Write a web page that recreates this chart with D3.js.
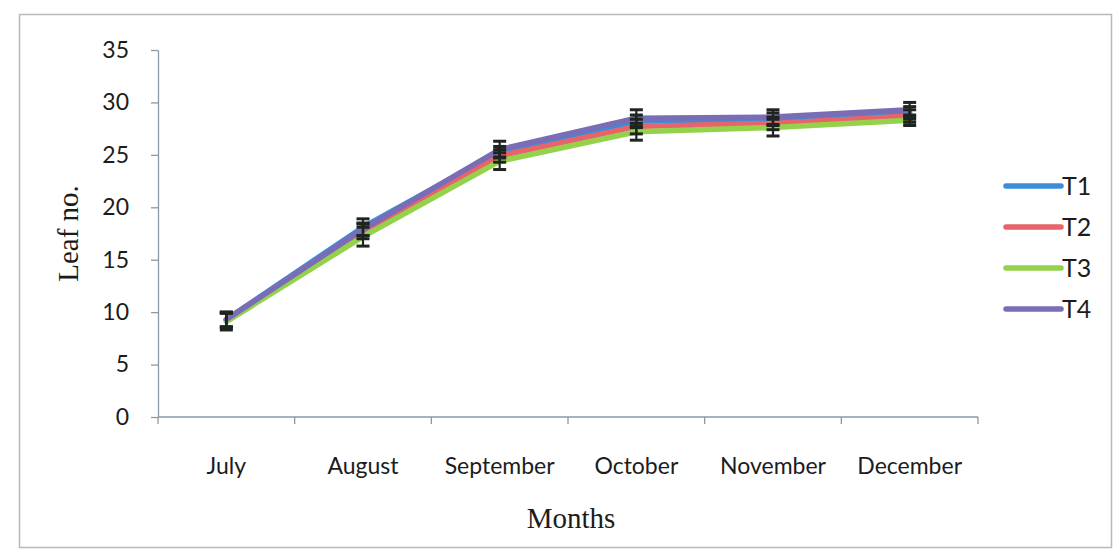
<!DOCTYPE html>
<html>
<head>
<meta charset="utf-8">
<script src="https://cdn.jsdelivr.net/npm/d3@7/dist/d3.min.js"></script>
<style>
  html, body { margin: 0; padding: 0; background: #ffffff; }
  svg { display: block; }
</style>
</head>
<body>
<div id="chart"></div>
<script>
// Monthly leaf counts for four treatments, with error bars
const months = ["July", "August", "September", "October", "November", "December"];
const seriesNames = ["T1", "T2", "T3", "T4"];
const t1 = [9.3, 18.1, 25.3, 28.2, 28.4, 29.0];
const t2 = [9.2, 17.7, 24.9, 27.7, 28.0, 28.7];
const t3 = [9.1, 17.2, 24.4, 27.2, 27.6, 28.3];
const t4 = [9.3, 17.9, 25.5, 28.5, 28.6, 29.3];
const t1Err = [0.7, 0.8, 0.5, 0.6, 0.6, 0.6];
const t2Err = [0.7, 0.7, 0.6, 0.7, 0.6, 0.6];
const t3Err = [0.8, 0.9, 0.8, 0.8, 0.8, 0.5];
const t4Err = [0.7, 0.6, 0.8, 0.8, 0.7, 0.7];
const yTicks = [0, 5, 10, 15, 20, 25, 30, 35];
const colors = ["#3b8dd8", "#e8646a", "#94d24c", "#7a6db6"];

const values = [t1, t2, t3, t4];
const errors = [t1Err, t2Err, t3Err, t4Err];
const series = seriesNames.map((name, i) => ({
  name,
  color: colors[i],
  points: months.map((m, j) => ({ month: m, value: values[i][j], err: errors[i][j] }))
}));

const W = 1117, H = 552;
const svg = d3.select("#chart").append("svg").attr("width", W).attr("height", H);

// outer chart frame
svg.append("rect")
  .attr("x", 19.5).attr("y", 14.5).attr("width", 1092).attr("height", 533)
  .attr("fill", "#fff").attr("stroke", "#b9b9b9").attr("stroke-width", 1.5);

const x = d3.scaleBand().domain(months).range([158, 978]);
const y = d3.scaleLinear().domain([0, 35]).range([417, 50]);

const axisColor = "#8a9aa6";
const tickFont = "Lato, 'Open Sans', sans-serif";
const textColor = "#1c1c1c";

// y axis
const yAxis = svg.append("g")
  .attr("transform", `translate(${x.range()[0]},0)`)
  .call(d3.axisLeft(y).tickValues(yTicks).tickSize(7).tickPadding(22).tickSizeOuter(0));
yAxis.select(".domain").attr("stroke", axisColor).attr("stroke-width", 1.3);
yAxis.selectAll(".tick line").attr("stroke", axisColor).attr("stroke-width", 1.3);
yAxis.selectAll(".tick text")
  .attr("font-family", tickFont).attr("font-size", 23).attr("fill", textColor);

// x axis with ticks on category boundaries
const xAxisG = svg.append("g").attr("transform", `translate(0,${y(0)})`);
xAxisG.append("line")
  .attr("x1", x.range()[0]).attr("x2", x.range()[1])
  .attr("stroke", axisColor).attr("stroke-width", 1.3);
const boundaries = months.map(m => x(m)).concat([x.range()[1]]);
xAxisG.selectAll("line.tk").data(boundaries).join("line")
  .attr("class", "tk")
  .attr("x1", d => d).attr("x2", d => d)
  .attr("y1", 0).attr("y2", 7)
  .attr("stroke", axisColor).attr("stroke-width", 1.3);
xAxisG.selectAll("text").data(months).join("text")
  .attr("x", d => x(d) + x.bandwidth() / 2)
  .attr("y", 57)
  .attr("text-anchor", "middle")
  .attr("font-family", tickFont).attr("font-size", 23).attr("fill", textColor)
  .text(d => d);

// axis titles
svg.append("text")
  .attr("transform", `translate(78,${y(17.5)}) rotate(-90)`)
  .attr("text-anchor", "middle")
  .attr("font-family", "'Liberation Serif', 'DejaVu Serif', serif")
  .attr("font-size", 29).attr("fill", textColor)
  .text("Leaf no.");
svg.append("text")
  .attr("x", 571).attr("y", 528)
  .attr("text-anchor", "middle")
  .attr("font-family", "'Liberation Serif', 'DejaVu Serif', serif")
  .attr("font-size", 29).attr("fill", textColor)
  .text("Months");

const cx = m => x(m) + x.bandwidth() / 2;
const line = d3.line().x(d => cx(d.month)).y(d => y(d.value));

// series lines
svg.append("g").selectAll("path").data(series).join("path")
  .attr("d", s => line(s.points))
  .attr("fill", "none")
  .attr("stroke", s => s.color)
  .attr("stroke-width", 5.5)
  .attr("stroke-linejoin", "round")
  .attr("stroke-linecap", "round");

// error bars
const eb = svg.append("g");
series.forEach(s => {
  const g = eb.append("g");
  g.selectAll("line.v").data(s.points).join("line")
    .attr("class", "v")
    .attr("x1", d => cx(d.month)).attr("x2", d => cx(d.month))
    .attr("y1", d => y(d.value - d.err)).attr("y2", d => y(d.value + d.err))
    .attr("stroke", "#1e2420").attr("stroke-width", 2.2);
  ["top", "bottom"].forEach(side => {
    g.selectAll("line." + side).data(s.points).join("line")
      .attr("class", side)
      .attr("x1", d => cx(d.month) - 6.5).attr("x2", d => cx(d.month) + 6.5)
      .attr("y1", d => y(side === "top" ? d.value + d.err : d.value - d.err))
      .attr("y2", d => y(side === "top" ? d.value + d.err : d.value - d.err))
      .attr("stroke", "#1e2420").attr("stroke-width", 3);
  });
});

// legend
const legend = svg.append("g").attr("transform", "translate(1006,186)");
const lg = legend.selectAll("g").data(series).join("g")
  .attr("transform", (d, i) => `translate(0,${i * 41})`);
lg.append("line")
  .attr("x1", 0).attr("x2", 55)
  .attr("stroke", d => d.color).attr("stroke-width", 5.5)
  .attr("stroke-linecap", "round");
lg.append("text")
  .attr("x", 56).attr("y", 9)
  .attr("font-family", tickFont).attr("font-size", 25).attr("fill", textColor)
  .text(d => d.name);
</script>
</body>
</html>
